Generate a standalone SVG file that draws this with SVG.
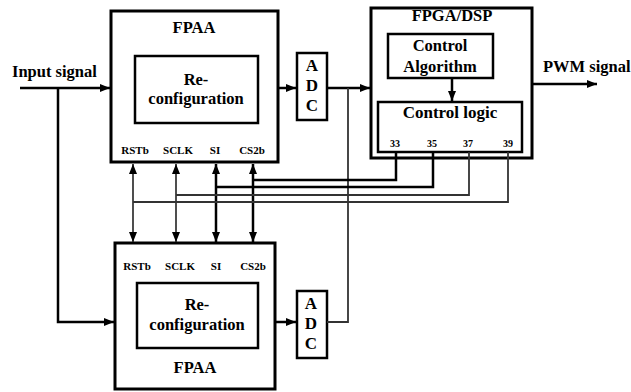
<svg xmlns="http://www.w3.org/2000/svg" width="631" height="392" viewBox="0 0 631 392" font-family="'Liberation Serif', 'DejaVu Serif', serif">
<style>
  text { font-family: 'Liberation Serif', 'DejaVu Serif', serif; font-weight: bold; fill: #000; }
  .box { fill: #fff; stroke: #000; stroke-width: 3; }
  .ibox { fill: none; stroke: #000; stroke-width: 2.5; }
  .t16 { font-size: 16.5px; text-anchor: middle; }
  .t17 { font-size: 17px; text-anchor: middle; }
  .pin { font-size: 11px; text-anchor: middle; }
  .num { font-size: 10px; text-anchor: middle; }
  .thick { fill: none; stroke: #000; stroke-width: 2.5; }
  .thin { fill: none; stroke: #222; stroke-width: 1.6; }
  .gray { fill: none; stroke: #333; stroke-width: 1.8; }
</style>
<defs>
  <marker id="ah" markerUnits="userSpaceOnUse" markerWidth="10" markerHeight="8" refX="10" refY="4" orient="auto-start-reverse">
    <path d="M0,0 L10,4 L0,8 z" fill="#000"/>
  </marker>
</defs>

<g id="fpaa-top">
  <rect class="box" x="111" y="11" width="167" height="151"/>
  <text class="t16" x="194" y="33">FPAA</text>
  <rect class="ibox" x="135" y="56" width="123" height="67"/>
  <text class="t16" x="196" y="85">Re-</text>
  <text class="t16" x="196" y="104">configuration</text>
  <text class="pin" x="135" y="154">RSTb</text>
  <text class="pin" x="178" y="154">SCLK</text>
  <text class="pin" x="215" y="154">SI</text>
  <text class="pin" x="252" y="154">CS2b</text>
</g>

<g id="fpaa-bottom">
  <rect class="box" x="115" y="243" width="160" height="146"/>
  <text class="pin" x="137" y="270">RSTb</text>
  <text class="pin" x="180" y="270">SCLK</text>
  <text class="pin" x="216" y="270">SI</text>
  <text class="pin" x="253" y="270">CS2b</text>
  <rect class="ibox" x="137" y="283" width="121" height="65"/>
  <text class="t16" x="197" y="310">Re-</text>
  <text class="t16" x="197" y="330">configuration</text>
  <text class="t16" x="195" y="373">FPAA</text>
</g>

<g id="adc-top">
  <rect class="ibox" x="297" y="53" width="30" height="67"/>
  <text class="t17" x="312" y="71">A</text>
  <text class="t17" x="312" y="91">D</text>
  <text class="t17" x="312" y="111">C</text>
</g>

<g id="adc-bottom">
  <rect class="ibox" x="297" y="291" width="30" height="67"/>
  <text class="t17" x="311" y="309">A</text>
  <text class="t17" x="311" y="329">D</text>
  <text class="t17" x="311" y="349">C</text>
</g>

<g id="fpga">
  <rect class="box" x="371" y="8" width="161" height="150"/>
  <text class="t16" x="452" y="21">FPGA/DSP</text>
  <rect class="ibox" x="388" y="34" width="105" height="44"/>
  <text class="t16" x="440" y="51">Control</text>
  <text class="t16" x="440" y="72">Algorithm</text>
  <rect class="ibox" x="378" y="102" width="144" height="50"/>
  <text class="t17" x="450" y="118">Control logic</text>
  <text class="num" x="395" y="147">33</text>
  <text class="num" x="432" y="147">35</text>
  <text class="num" x="468" y="147">37</text>
  <text class="num" x="508" y="147">39</text>
</g>

<g id="labels">
  <text x="12" y="77" style="font-size:16.5px">Input signal</text>
  <text x="543" y="72" style="font-size:16.5px">PWM signal</text>
</g>

<g id="connectors">
  <path class="thick" d="M20,88 H110" marker-end="url(#ah)"/>
  <path class="thick" d="M58,88 V322 H114" marker-end="url(#ah)"/>
  <path class="thick" d="M278,88 H296" marker-end="url(#ah)"/>
  <path class="thick" d="M275,322 H296" marker-end="url(#ah)"/>
  <path class="thick" d="M327,88 H370" marker-end="url(#ah)"/>
  <path class="gray" d="M327,322 H348 V88"/>
  <path class="thick" d="M452,78 V101" marker-end="url(#ah)"/>
  <path class="thick" d="M532,84 H597" marker-end="url(#ah)"/>
  <path class="thin" d="M133,164 V242" marker-start="url(#ah)" marker-end="url(#ah)"/>
  <path class="thin" d="M176,164 V242" marker-start="url(#ah)" marker-end="url(#ah)"/>
  <path class="thick" d="M216,164 V242" marker-start="url(#ah)" marker-end="url(#ah)"/>
  <path class="thick" d="M253,164 V242" marker-start="url(#ah)" marker-end="url(#ah)"/>
  <path class="thick" d="M253,180 H396 V152"/>
  <path class="thick" d="M216,187 H433 V152"/>
  <path class="gray" d="M176,195 H469 V152"/>
  <path class="gray" d="M133,202 H508 V152"/>
</g>
</svg>
